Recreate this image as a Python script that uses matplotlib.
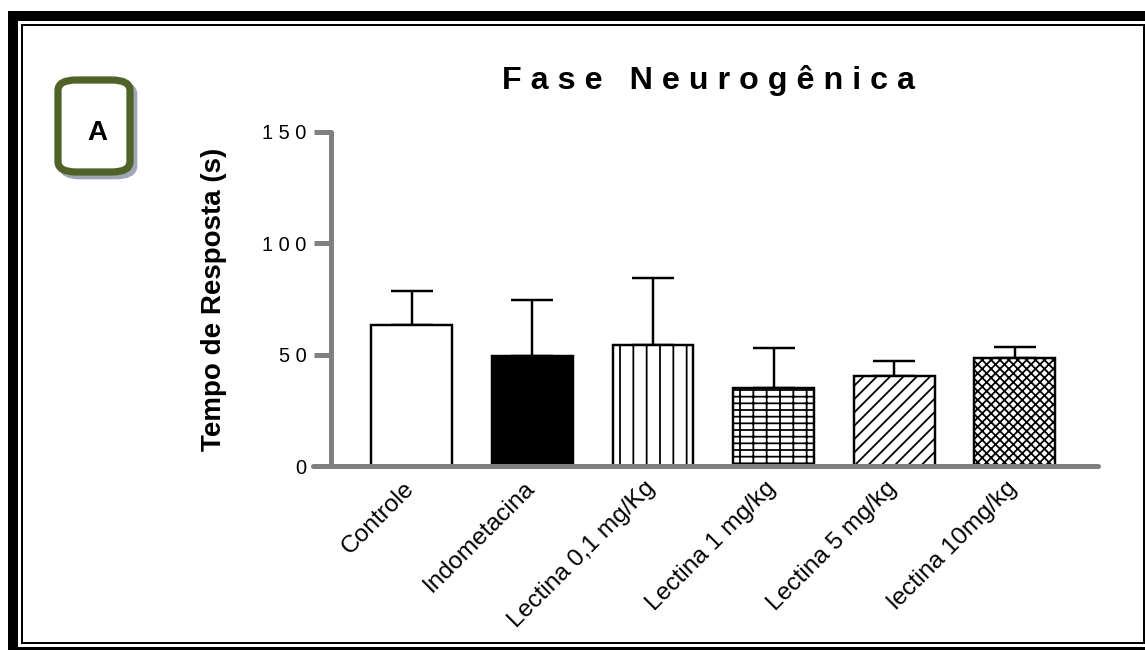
import matplotlib
matplotlib.use("Agg")
import matplotlib.pyplot as plt
from matplotlib.patches import Rectangle, FancyBboxPatch
from matplotlib.transforms import ScaledTranslation

# Dados (tempo de resposta em s, média e erro padrão)
grupos = ['Controle', 'Indometacina', 'Lectina 0,1 mg/Kg',
          'Lectina 1 mg/kg', 'Lectina 5 mg/kg', 'lectina 10mg/kg']
medias = [63.5, 49.5, 54.5, 35.0, 40.5, 48.5]
erros = [15.0, 25.0, 30.0, 18.0, 6.5, 5.0]
cores = ['white', 'black', 'white', 'white', 'white', 'white']
hachuras = ['', '', '|', '|--', '//', 'xxx']
yticks = [0, 50, 100, 150]
ytick_labels = ['0', '5 0', '1 0 0', '1 5 0']

W, H, DPI = 1145, 650, 80
plt.rcParams['font.family'] = ['Liberation Sans', 'DejaVu Sans']
plt.rcParams['hatch.linewidth'] = 1.6

fig = plt.figure(figsize=(W / DPI, H / DPI), dpi=DPI)


def fx(x):
    return x / W


def fy(y):
    return 1 - y / H


# moldura
fig.add_artist(Rectangle((fx(8), fy(21)), fx(1137), 10 / H, transform=fig.transFigure,
                         facecolor='black', edgecolor='none'))
fig.add_artist(Rectangle((fx(8), 0), fx(10), fy(11), transform=fig.transFigure,
                         facecolor='black', edgecolor='none'))
fig.add_artist(Rectangle((fx(8), 0), fx(1137), 3 / H, transform=fig.transFigure,
                         facecolor='black', edgecolor='none'))
fig.add_artist(Rectangle((fx(21.5), fy(643)), fx(1144 - 21.5), (643 - 24.5) / H,
                         transform=fig.transFigure, facecolor='none',
                         edgecolor='black', linewidth=1.8))

# caixa "A"
fig.add_artist(FancyBboxPatch((fx(62), fy(176)), fx(72), 92 / H,
                              boxstyle='round,pad=0,rounding_size=0.016',
                              transform=fig.transFigure, facecolor='none',
                              edgecolor='#9ea6b8', linewidth=6))
fig.add_artist(FancyBboxPatch((fx(58), fy(172)), fx(72), 92 / H,
                              boxstyle='round,pad=0,rounding_size=0.016',
                              transform=fig.transFigure, facecolor='white',
                              edgecolor='#4f6228', linewidth=6.5))
fig.text(fx(97), fy(133), 'A', fontsize=25, fontweight='bold', ha='center', va='center')

# título
fig.text(fx(709), fy(80), 'F a s e   N e u r o g ê n i c a', fontsize=29,
         fontweight='bold', ha='center', va='center')

ax = fig.add_axes([fx(313), fy(466), fx(1098 - 313), (466 - 132) / H])
x = list(range(len(grupos)))
ax.bar(x, medias, width=0.67, color=cores, edgecolor='black', linewidth=2.2,
       hatch=hachuras, zorder=2)
ax.errorbar(x, medias, yerr=[[0] * len(erros), erros], fmt='none', ecolor='black',
            elinewidth=2.2, capsize=19, capthick=2.2, zorder=1)

ax.set_xlim(-0.82, 5.69)
ax.set_ylim(0, 150)
for s in ['top', 'right']:
    ax.spines[s].set_visible(False)
ax.spines['left'].set_position(('data', -0.67))
for s in ['left', 'bottom']:
    ax.spines[s].set_color('#808080')
    ax.spines[s].set_linewidth(4.5)
    ax.spines[s].set_capstyle('round')
ax.set_yticks(yticks)
ax.set_yticklabels(ytick_labels, fontsize=18)
ax.tick_params(axis='y', length=15, width=4.5, color='#808080', pad=7)
ax.set_xticks(x)
ax.set_xticklabels(grupos, rotation=45, ha='right', rotation_mode='anchor', fontsize=22)
ax.tick_params(axis='x', length=0, pad=10)
desloc = ScaledTranslation(-9 / DPI, 0, fig.dpi_scale_trans)
for lbl in ax.get_xticklabels():
    lbl.set_transform(lbl.get_transform() + desloc)
ax.set_ylabel('Tempo de Resposta (s)', fontsize=25, fontweight='bold', labelpad=32)
ax.patch.set_visible(False)

fig.savefig('out.png', dpi=DPI, facecolor='white')
